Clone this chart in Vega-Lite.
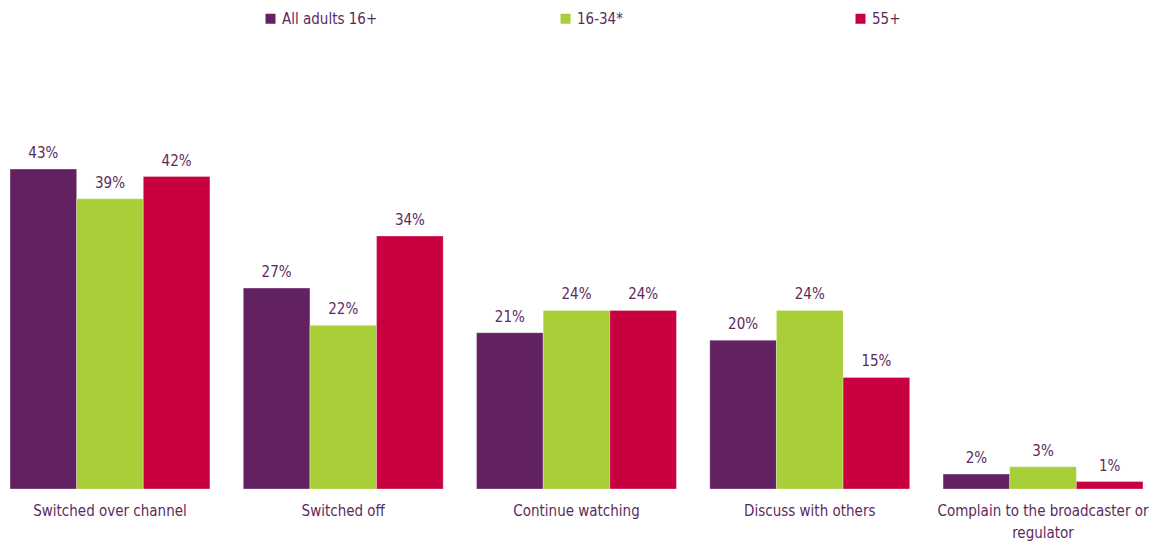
{
  "$schema": "https://vega.github.io/schema/vega-lite/v6.json",
  "width": 1153,
  "height": 372,
  "autosize": {"type": "none"},
  "padding": {"left": 0, "right": 3, "top": 117, "bottom": 56},
  "config": {
    "view": {"stroke": null},
    "font": "DejaVu Sans Condensed",
    "text": {"font": "DejaVu Sans Condensed"}
  },
  "data": {
    "values": [
      {"category": "Switched over channel", "group": "All adults 16+", "value": 43},
      {"category": "Switched over channel", "group": "16-34*", "value": 39},
      {"category": "Switched over channel", "group": "55+", "value": 42},
      {"category": "Switched off", "group": "All adults 16+", "value": 27},
      {"category": "Switched off", "group": "16-34*", "value": 22},
      {"category": "Switched off", "group": "55+", "value": 34},
      {"category": "Continue watching", "group": "All adults 16+", "value": 21},
      {"category": "Continue watching", "group": "16-34*", "value": 24},
      {"category": "Continue watching", "group": "55+", "value": 24},
      {"category": "Discuss with others", "group": "All adults 16+", "value": 20},
      {"category": "Discuss with others", "group": "16-34*", "value": 24},
      {"category": "Discuss with others", "group": "55+", "value": 15},
      {"category": "Complain to the broadcaster or regulator", "group": "All adults 16+", "value": 2},
      {"category": "Complain to the broadcaster or regulator", "group": "16-34*", "value": 3},
      {"category": "Complain to the broadcaster or regulator", "group": "55+", "value": 1}
    ]
  },
  "encoding": {
    "x": {
      "field": "category",
      "type": "nominal",
      "sort": null,
      "scale": {"paddingInner": 0.143, "paddingOuter": 0.043},
      "axis": {
        "title": null,
        "labelAngle": 0,
        "domain": false,
        "ticks": false,
        "labelPadding": 14,
        "labelFontSize": 15,
        "labelColor": "#5e2a5e",
        "labelFont": "DejaVu Sans Condensed",
        "labelLimit": 300,
        "labelLineHeight": 22,
        "labelExpr": "datum.value == 'Complain to the broadcaster or regulator' ? ['Complain to the broadcaster or', 'regulator'] : datum.label"
      }
    },
    "xOffset": {
      "field": "group",
      "type": "nominal",
      "sort": ["All adults 16+", "16-34*", "55+"],
      "scale": {"paddingInner": 0, "paddingOuter": 0}
    },
    "y": {
      "field": "value",
      "type": "quantitative",
      "scale": {"domain": [0, 50]},
      "axis": null
    }
  },
  "layer": [
    {
      "mark": {"type": "bar", "stroke": "#ffffff", "strokeWidth": 0.5, "strokeOpacity": 0.6},
      "encoding": {
        "color": {
          "field": "group",
          "type": "nominal",
          "sort": ["All adults 16+", "16-34*", "55+"],
          "scale": {"domain": ["All adults 16+", "16-34*", "55+"], "range": ["#622262", "#a8cf38", "#c8003f"]},
          "legend": {
            "title": null,
            "orient": "none",
            "legendX": 263,
            "legendY": -106,
            "direction": "horizontal",
            "columns": 3,
            "gridAlign": "all",
            "columnPadding": 180,
            "symbolType": "square",
            "symbolSize": 100,
            "symbolStrokeWidth": 0,
            "labelFontSize": 15,
            "labelColor": "#5e2a5e",
            "labelFont": "DejaVu Sans Condensed",
            "labelOffset": 4
          }
        }
      }
    },
    {
      "transform": [{"calculate": "datum.value + '%'", "as": "label"}],
      "mark": {"type": "text", "baseline": "bottom", "dy": -8, "fontSize": 15, "color": "#5e2a5e"},
      "encoding": {
        "text": {"field": "label", "type": "nominal"}
      }
    }
  ]
}
